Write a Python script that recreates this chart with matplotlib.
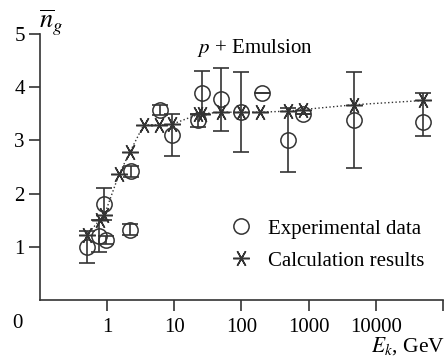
import matplotlib.pyplot as plt

plt.rcParams['font.family'] = ['Liberation Serif', 'DejaVu Serif']
plt.rcParams['mathtext.fontset'] = 'stix'

# experimental data (circles) with error bars
exp_e = [0.5, 0.75, 0.9, 0.97, 2.2, 2.25, 6.1, 9.1, 22.8, 26, 50, 100, 204, 495, 830, 4800, 51000]
exp_n = [1.0, 1.2, 1.8, 1.13, 1.32, 2.42, 3.57, 3.1, 3.38, 3.9, 3.77, 3.53, 3.9, 3.0, 3.49, 3.38, 3.35]
exp_lo = [0.3, 0.3, 0.3, 0.08, 0.1, 0.1, 0.1, 0.4, 0.12, 0.4, 0.6, 0.75, 0.0, 0.6, 0.0, 0.9, 0.26]
exp_hi = [0.3, 0.3, 0.3, 0.08, 0.1, 0.1, 0.1, 0.4, 0.12, 0.4, 0.6, 0.75, 0.0, 0.6, 0.0, 0.9, 0.54]

# calculation results (stars)
calc_e = [0.5, 0.77, 0.91, 1.5, 2.2, 3.5, 6, 9.1, 22.8, 26, 50, 100, 192, 495, 830, 4800, 51000]
calc_n = [1.22, 1.5, 1.6, 2.36, 2.79, 3.29, 3.29, 3.3, 3.49, 3.5, 3.53, 3.53, 3.53, 3.55, 3.58, 3.67, 3.75]

xticks = [1, 10, 100, 1000, 10000, 100000]
xlabels = ['1', '10', '100', '1000', '10000', '']

col = '#333333'
star = (6, 2, 90)

fig = plt.figure(figsize=(4.46, 3.6), dpi=100)
ax = fig.add_axes([0.0897, 0.1667, 0.9033, 0.7389])

ax.plot(calc_e, calc_n, ':', color=col, lw=1.0)
ax.errorbar(exp_e, exp_n, yerr=[exp_lo, exp_hi], fmt='none', ecolor=col,
            elinewidth=1.2, capsize=6, capthick=1.2)
ax.plot(exp_e, exp_n, 'o', mfc='none', mec=col, mew=1.1, ms=11, ls='none',
        label='Experimental data')
ax.plot(calc_e, calc_n, marker=star, color=col, mew=1.1, ms=12, ls='none',
        label='Calculation results')

ax.set_xscale('log')
ax.set_xlim(0.1, 100000)
ax.set_ylim(0, 5)
ax.set_xticks(xticks)
ax.set_xticklabels(xlabels)
ax.minorticks_off()
ax.set_yticks([1, 2, 3, 4, 5])
for s in ['top', 'right']:
    ax.spines[s].set_visible(False)
for s in ['left', 'bottom']:
    ax.spines[s].set_color(col)
    ax.spines[s].set_linewidth(1.2)
ax.tick_params(axis='both', labelsize=15, length=8, width=1.2, color=col, pad=5)
ax.tick_params(axis='y', pad=3)

fig.text(0.04, 0.1, '0', fontsize=15, ha='center', va='center')
fig.text(0.088, 0.925, r'$\overline{n}_g$', fontsize=19)
fig.text(0.998, 0.008, r'$E_k$, GeV', fontsize=15.5, ha='right', va='bottom')
ax.text(0.533, 0.93, r'$p$ + Emulsion', transform=ax.transAxes, fontsize=15,
        ha='center')

ax.legend(loc='lower right', bbox_to_anchor=(1.0, 0.04), frameon=False,
          fontsize=15, handlelength=1.0, handletextpad=0.8, labelspacing=0.6)

plt.savefig('out.png', dpi=100)
